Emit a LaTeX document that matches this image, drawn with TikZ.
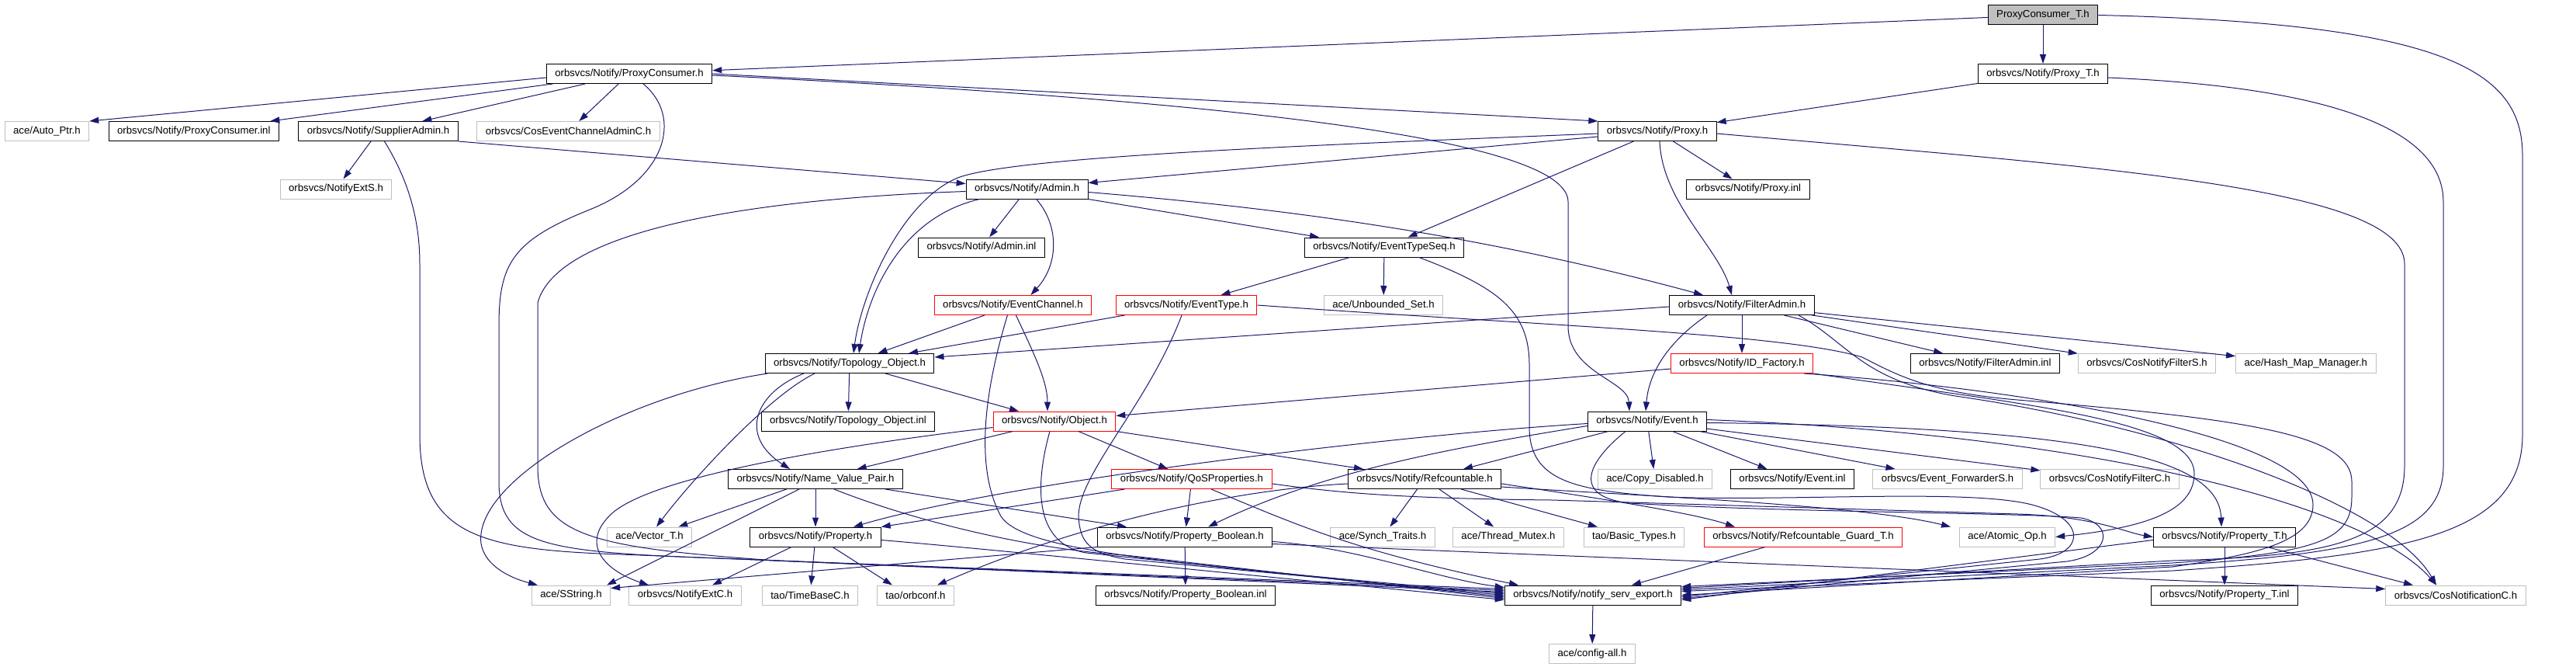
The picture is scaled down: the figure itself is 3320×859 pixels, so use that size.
\documentclass[tikz,border=0pt]{standalone}
\usepackage{fontspec}
\setmainfont{Liberation Sans}
\usetikzlibrary{arrows.meta}
\definecolor{edgeblue}{RGB}{25,25,112}
\definecolor{boxgray}{RGB}{191,191,191}

\begin{document}
\begin{tikzpicture}[x=1pt, y=-1pt,
        file/.style=
            {
                rectangle,
                draw = black,
                line width = 1pt,
                fill = white,
                inner xsep = 11pt,
                inner ysep = 0pt,
                minimum height = 25pt,
                font = \fontsize{13.2}{15}\selectfont
            },
        extfile/.style = {file, draw = boxgray},
        redfile/.style = {file, draw = red},
        rootfile/.style = {file, fill = boxgray},
        inc/.style=
            {
                draw = edgeblue,
                line width = 1pt,
                -{Triangle[length=12pt, width=8pt]}
            }
    ]

    \useasboundingbox (0,0) rectangle (3320,859);

    % row 0 and 1
    \node[rootfile] (pct) at (2633,19.5) {ProxyConsumer\_T.h};
    \node[file] (pc) at (811,95) {orbsvcs/Notify/ProxyConsumer.h};
    \node[file] (proxyt) at (2633,95) {orbsvcs/Notify/Proxy\_T.h};

    % row 2
    \node[extfile] (autoptr) at (60.4,169) {ace/Auto\_Ptr.h};
    \node[file] (pcinl) at (249.8,169) {orbsvcs/Notify/ProxyConsumer.inl};
    \node[file] (supadm) at (487.5,169) {orbsvcs/Notify/SupplierAdmin.h};
    \node[extfile] (cosec) at (732.5,169) {orbsvcs/CosEventChannelAdminC.h};
    \node[file] (proxy) at (2136,169) {orbsvcs/Notify/Proxy.h};

    % row 3 and 4
    \node[extfile] (extS) at (433,243.5) {orbsvcs/NotifyExtS.h};
    \node[file] (admin) at (1323.6,243.5) {orbsvcs/Notify/Admin.h};
    \node[file] (proxyinl) at (2253,243.5) {orbsvcs/Notify/Proxy.inl};
    \node[file] (admininl) at (1265,318.5) {orbsvcs/Notify/Admin.inl};
    \node[file] (ets) at (1784,318.5) {orbsvcs/Notify/EventTypeSeq.h};

    % row 5
    \node[redfile] (evchan) at (1305.4,393) {orbsvcs/Notify/EventChannel.h};
    \node[redfile] (evtype) at (1529,393) {orbsvcs/Notify/EventType.h};
    \node[extfile] (unbset) at (1783,393) {ace/Unbounded\_Set.h};
    \node[file] (filtadm) at (2245,393) {orbsvcs/Notify/FilterAdmin.h};

    % row 6
    \node[file] (topo) at (1095,468) {orbsvcs/Notify/Topology\_Object.h};
    \node[redfile] (idfac) at (2245,468) {orbsvcs/Notify/ID\_Factory.h};
    \node[file] (filtinl) at (2558.4,468) {orbsvcs/Notify/FilterAdmin.inl};
    \node[extfile] (filtS) at (2767,468) {orbsvcs/CosNotifyFilterS.h};
    \node[extfile] (hashmap) at (2971.8,468) {ace/Hash\_Map\_Manager.h};

    % row 7
    \node[file] (topoinl) at (1093,542.5) {orbsvcs/Notify/Topology\_Object.inl};
    \node[redfile] (object) at (1359,542.5) {orbsvcs/Notify/Object.h};
    \node[file] (event) at (2123,542.5) {orbsvcs/Notify/Event.h};

    % row 8
    \node[file] (nvp) at (1051,617) {orbsvcs/Notify/Name\_Value\_Pair.h};
    \node[redfile] (qos) at (1536,617) {orbsvcs/Notify/QoSProperties.h};
    \node[file] (refc) at (1836,617) {orbsvcs/Notify/Refcountable.h};
    \node[extfile] (copydis) at (2133,617) {ace/Copy\_Disabled.h};
    \node[file] (eventinl) at (2310,617) {orbsvcs/Notify/Event.inl};
    \node[extfile] (evfwd) at (2510,617) {orbsvcs/Event\_ForwarderS.h};
    \node[extfile] (filtC) at (2719,617) {orbsvcs/CosNotifyFilterC.h};

    % row 9
    \node[extfile] (vector) at (837,691.5) {ace/Vector\_T.h};
    \node[file] (property) at (1051,691.5) {orbsvcs/Notify/Property.h};
    \node[file] (propbool) at (1527,691.5) {orbsvcs/Notify/Property\_Boolean.h};
    \node[extfile] (synch) at (1782,691.5) {ace/Synch\_Traits.h};
    \node[extfile] (mutex) at (1944,691.5) {ace/Thread\_Mutex.h};
    \node[extfile] (basic) at (2106,691.5) {tao/Basic\_Types.h};
    \node[redfile] (guard) at (2324,691.5) {orbsvcs/Notify/Refcountable\_Guard\_T.h};
    \node[extfile] (atomic) at (2587,691.5) {ace/Atomic\_Op.h};
    \node[file] (propT) at (2867,691.5) {orbsvcs/Notify/Property\_T.h};

    % row 10 and 11
    \node[extfile] (sstring) at (736,766.5) {ace/SString.h};
    \node[extfile] (extC) at (883,766.5) {orbsvcs/NotifyExtC.h};
    \node[extfile] (timebase) at (1044,766.5) {tao/TimeBaseC.h};
    \node[extfile] (orbconf) at (1180,766.5) {tao/orbconf.h};
    \node[file] (propboolinl) at (1528,766.5) {orbsvcs/Notify/Property\_Boolean.inl};
    \node[file] (nse) at (2053,766.5) {orbsvcs/Notify/notify\_serv\_export.h};
    \node[file] (propTinl) at (2867,766.5) {orbsvcs/Notify/Property\_T.inl};
    \node[extfile] (cosnotC) at (3165,766.5) {orbsvcs/CosNotificationC.h};
    \node[extfile] (config) at (2052,842) {ace/config-all.h};

    % ProxyConsumer_T.h
    \draw[inc] (pct) -- (pc);
    \draw[inc] (pct) -- (proxyt);
    \draw[inc] (pct.east) .. controls (3150,30) and (3251,90) .. (3251,200) -- (3251,560) .. controls (3251,690) and (3100,715) .. (2800,735) -- ([yshift=5pt]nse.east);

    % ProxyConsumer.h
    \draw[inc] ([yshift=-5pt]pc.west) -- (autoptr.north east);
    \draw[inc] (pc) -- (pcinl);
    \draw[inc] (pc) -- (supadm);
    \draw[inc] (pc) -- (cosec);
    \draw[inc] (pc.east) -- (proxy.north west);
    \draw[inc] ([yshift=-2pt]pc.east) .. controls (1700,135) and (2021,190) .. (2021,260) -- (2021,420) .. controls (2021,480) and (2098,490) .. ([xshift=-23pt]event.north);
    \draw[inc] ([xshift=18pt]pc.south) .. controls (880,150) and (860,230) .. (760,270) .. controls (660,310) and (643,340) .. (643,420) -- (643,620) .. controls (643,700) and (700,710) .. (900,718) -- ([yshift=6pt]nse.west);

    % Proxy_T.h
    \draw[inc] (proxyt) -- (proxy);
    \draw[inc] ([yshift=-5pt]proxyt.east) .. controls (2950,110) and (3149,150) .. (3149,260) -- (3149,600) .. controls (3149,690) and (3050,712) .. (2800,728) -- ([yshift=7pt]nse.east);

    % SupplierAdmin.h
    \draw[inc] (supadm) -- (extS);
    \draw[inc] (supadm.south east) -- ([yshift=7pt]admin.west);
    \draw[inc] ([xshift=8pt]supadm.south) .. controls (525,230) and (541,280) .. (541,340) -- (541,560) .. controls (541,690) and (620,708) .. (800,714) -- ([yshift=8pt]nse.west);

    % Proxy.h
    \draw[inc] ([yshift=-7pt]proxy.west) -- ([yshift=8pt]admin.east);
    \draw[inc] ([yshift=-3pt]proxy.west) .. controls (1750,185) and (1300,200) .. (1232,230) .. controls (1160,262) and (1110,380) .. ([xshift=5pt]topo.north);
    \draw[inc] (proxy) -- (ets);
    \draw[inc] (proxy) -- (proxyinl);
    \draw[inc] ([xshift=3pt]proxy.south) .. controls (2142,260) and (2215,320) .. ([xshift=-13pt]filtadm.north);
    \draw[inc] ([yshift=-3pt]proxy.east) .. controls (2700,215) and (3099,240) .. (3099,340) -- (3099,600) .. controls (3099,700) and (3000,716) .. (2800,722) -- ([yshift=9pt]nse.east);

    % Admin.h
    \draw[inc] (admin) -- (admininl);
    \draw[inc] ([xshift=12pt]admin.south) .. controls (1365,290) and (1365,340) .. ([xshift=23pt]evchan.north);
    \draw[inc] ([xshift=-61pt]admin.south) .. controls (1160,280) and (1118,380) .. ([xshift=12pt]topo.north);
    \draw[inc] (admin.south east) -- ([xshift=-84pt]ets.north);
    \draw[inc] ([yshift=-4pt]admin.east) .. controls (1650,268) and (1900,300) .. ([xshift=-50pt]filtadm.north);
    \draw[inc] ([yshift=-3pt]admin.west) .. controls (1000,255) and (720,290) .. (693,390) -- (693,600) .. controls (693,690) and (760,705) .. (1000,722) -- ([yshift=4pt]nse.west);

    % EventTypeSeq.h
    \draw[inc] (ets) -- (evtype);
    \draw[inc] (ets) -- (unbset);
    \draw[inc] ([xshift=45pt]ets.south) .. controls (1930,370) and (1971,400) .. (1971,470) -- (1971,550) .. controls (1971,620) and (2030,632) .. (2150,640) .. controls (2300,646) and (2520,630) .. (2610,648) .. controls (2690,665) and (2690,712) .. (2629,720) -- ([yshift=-2pt]nse.east);

    % EventChannel.h
    \draw[inc] (evchan) -- (topo);
    \draw[inc] ([xshift=4pt]evchan.south) .. controls (1330,450) and (1350,490) .. ([xshift=-9pt]object.north);
    \draw[inc] ([xshift=-7pt]evchan.south) .. controls (1270,500) and (1255,600) .. (1290,665) .. controls (1320,710) and (1500,725) .. ([yshift=2pt]nse.west);

    % EventType.h
    \draw[inc] ([xshift=12pt]evtype.south west) -- ([xshift=76pt]topo.north);
    \draw[inc] ([xshift=-6pt]evtype.south) .. controls (1480,520) and (1390,610) .. (1390,665) .. controls (1392,700) and (1405,712) .. (1450,720) -- (nse.west);
    \draw[inc] (evtype.east) .. controls (2000,420) and (2300,430) .. (2400,460) .. controls (2440,480) and (2480,505) .. (2600,515) .. controls (2900,540) and (3031,560) .. (3031,620) -- (3031,640) .. controls (3031,695) and (2990,712) .. (2800,725) -- ([yshift=11pt]nse.east);

    % FilterAdmin.h
    \draw[inc] ([yshift=-2pt]filtadm.west) -- ([yshift=8pt]topo.east);
    \draw[inc] ([xshift=-45pt]filtadm.south) .. controls (2150,440) and (2125,480) .. ([xshift=-2pt]event.north);
    \draw[inc] (filtadm) -- (idfac);
    \draw[inc] (filtadm) -- (filtinl);
    \draw[inc] (filtadm) -- (filtS);
    \draw[inc] (filtadm) -- (hashmap);
    \draw[inc] ([xshift=73pt]filtadm.south) .. controls (2380,440) and (2400,490) .. (2520,510) .. controls (2800,550) and (3080,650) .. ([xshift=-25pt]cosnotC.north);

    % ID_Factory.h
    \draw[inc] ([yshift=-7pt]idfac.west) -- ([yshift=7pt]object.east);
    \draw[inc] (idfac.south east) .. controls (2600,520) and (2828,540) .. (2828,610) .. controls (2828,660) and (2760,680) .. (atomic.east);
    \draw[inc] ([xshift=-12pt]idfac.south east) .. controls (2600,500) and (2981,560) .. (2981,650) .. controls (2981,700) and (2900,715) .. (2800,730) -- (nse.east);

    % Topology_Object.h
    \draw[inc] (topo) -- (topoinl);
    \draw[inc] (topo) -- (object);
    \draw[inc] ([xshift=-59pt]topo.south) .. controls (975,505) and (950,560) .. ([xshift=-33pt]nvp.north);
    \draw[inc] ([xshift=-45pt]topo.south) .. controls (990,510) and (890,620) .. ([xshift=9pt]vector.north);
    \draw[inc] ([xshift=-106pt]topo.south) .. controls (800,510) and (610,620) .. (620,700) .. controls (625,730) and (660,745) .. ([xshift=-43pt]sstring.north);

    % Object.h
    \draw[inc] (object) -- (nvp);
    \draw[inc] (object) -- (qos);
    \draw[inc] (object.south east) -- ([xshift=-79pt]refc.north);
    \draw[inc] ([xshift=-6pt]object.south) .. controls (1335,620) and (1330,700) .. (1400,712) -- ([yshift=-2pt]nse.west);
    \draw[inc] ([yshift=-8pt]object.west) .. controls (1100,572) and (850,610) .. (790,660) .. controls (745,700) and (780,735) .. ([xshift=-47pt]extC.north);

    % Event.h
    \draw[inc] ([yshift=-3pt]event.west) .. controls (1800,560) and (1300,620) .. ([xshift=49pt]property.north);
    \draw[inc] ([yshift=-6pt]event.west) .. controls (1850,580) and (1700,610) .. ([xshift=30pt]propbool.north);
    \draw[inc] (event) -- (refc);
    \draw[inc] (event) -- (copydis);
    \draw[inc] (event) -- (eventinl);
    \draw[inc] (event) -- (evfwd);
    \draw[inc] (event) -- (filtC);
    \draw[inc] ([yshift=-2pt]event.east) .. controls (2700,550) and (2860,590) .. ([xshift=-4pt]propT.north);
    \draw[inc] ([yshift=2pt]event.east) .. controls (2700,560) and (3050,650) .. ([xshift=-25pt]cosnotC.north);
    \draw[inc] ([xshift=-28pt]event.south) .. controls (2040,600) and (2030,640) .. (2100,648) .. controls (2300,660) and (2600,660) .. (2682,667) .. controls (2725,675) and (2720,715) .. (2664,723) -- ([yshift=-4pt]nse.east);

    % Name_Value_Pair.h
    \draw[inc] (nvp) -- (vector);
    \draw[inc] ([xshift=-21pt]nvp.south) -- ([xshift=46pt]sstring.north);
    \draw[inc] (nvp) -- (property);
    \draw[inc] ([xshift=90pt]nvp.south) -- ([xshift=-75pt]propbool.north);
    \draw[inc] ([xshift=24pt]nvp.south) .. controls (1150,660) and (1300,705) .. (1450,715) -- ([yshift=-4pt]nse.west);

    % QoSProperties.h
    \draw[inc] ([xshift=17pt]qos.south west) -- (property.north east);
    \draw[inc] (qos) -- (propbool);
    \draw[inc] ([xshift=25pt]qos.south) .. controls (1680,680) and (1750,710) .. ([xshift=-96pt]nse.north);
    \draw[inc] ([yshift=-6pt]qos.east) .. controls (1720,634) and (1800,642) .. (2000,644) -- (2600,662) .. controls (2700,665) and (2740,686) .. (propT.west);

    % Refcountable.h
    \draw[inc] (refc) -- (synch);
    \draw[inc] (refc) -- (mutex);
    \draw[inc] (refc) -- (basic);
    \draw[inc] ([yshift=-6pt]refc.west) .. controls (1600,630) and (1400,670) .. ([xshift=28pt]orbconf.north);
    \draw[inc] ([yshift=-10pt]refc.east) .. controls (2100,638) and (2400,650) .. ([xshift=-73pt]atomic.north);
    \draw[inc] ([yshift=-6pt]refc.east) .. controls (2050,640) and (2180,660) .. ([xshift=-88pt]guard.north);

    % Property.h
    \draw[inc] ([xshift=-31pt]property.south) -- ([xshift=35pt]extC.north);
    \draw[inc] (property) -- (timebase);
    \draw[inc] ([xshift=22pt]property.south) -- ([xshift=-30pt]orbconf.north);
    \draw[inc] ([yshift=-4pt]property.east) .. controls (1250,705) and (1500,730) .. ([yshift=-6pt]nse.west);

    % Property_Boolean.h
    \draw[inc] (propbool) -- (propboolinl);
    \draw[inc] (propbool.south west) -- ([yshift=9pt]sstring.east);
    \draw[inc] ([yshift=-6pt]propbool.east) .. controls (1750,705) and (1850,745) .. ([yshift=10pt]nse.west);
    \draw[inc] ([yshift=-9pt]propbool.east) -- ([yshift=8pt]cosnotC.west);

    % Property_T.h, Refcountable_Guard_T.h, notify_serv_export.h
    \draw[inc] (propT) -- (propTinl);
    \draw[inc] ([xshift=55pt]propT.south) -- ([xshift=-55pt]cosnotC.north);
    \draw[inc] ([yshift=-4pt]propT.west) -- ([yshift=-6pt]nse.east);
    \draw[inc] ([xshift=-49pt]guard.south) -- ([xshift=50pt]nse.north);
    \draw[inc] (nse) -- (config);

\end{tikzpicture}
\end{document}
